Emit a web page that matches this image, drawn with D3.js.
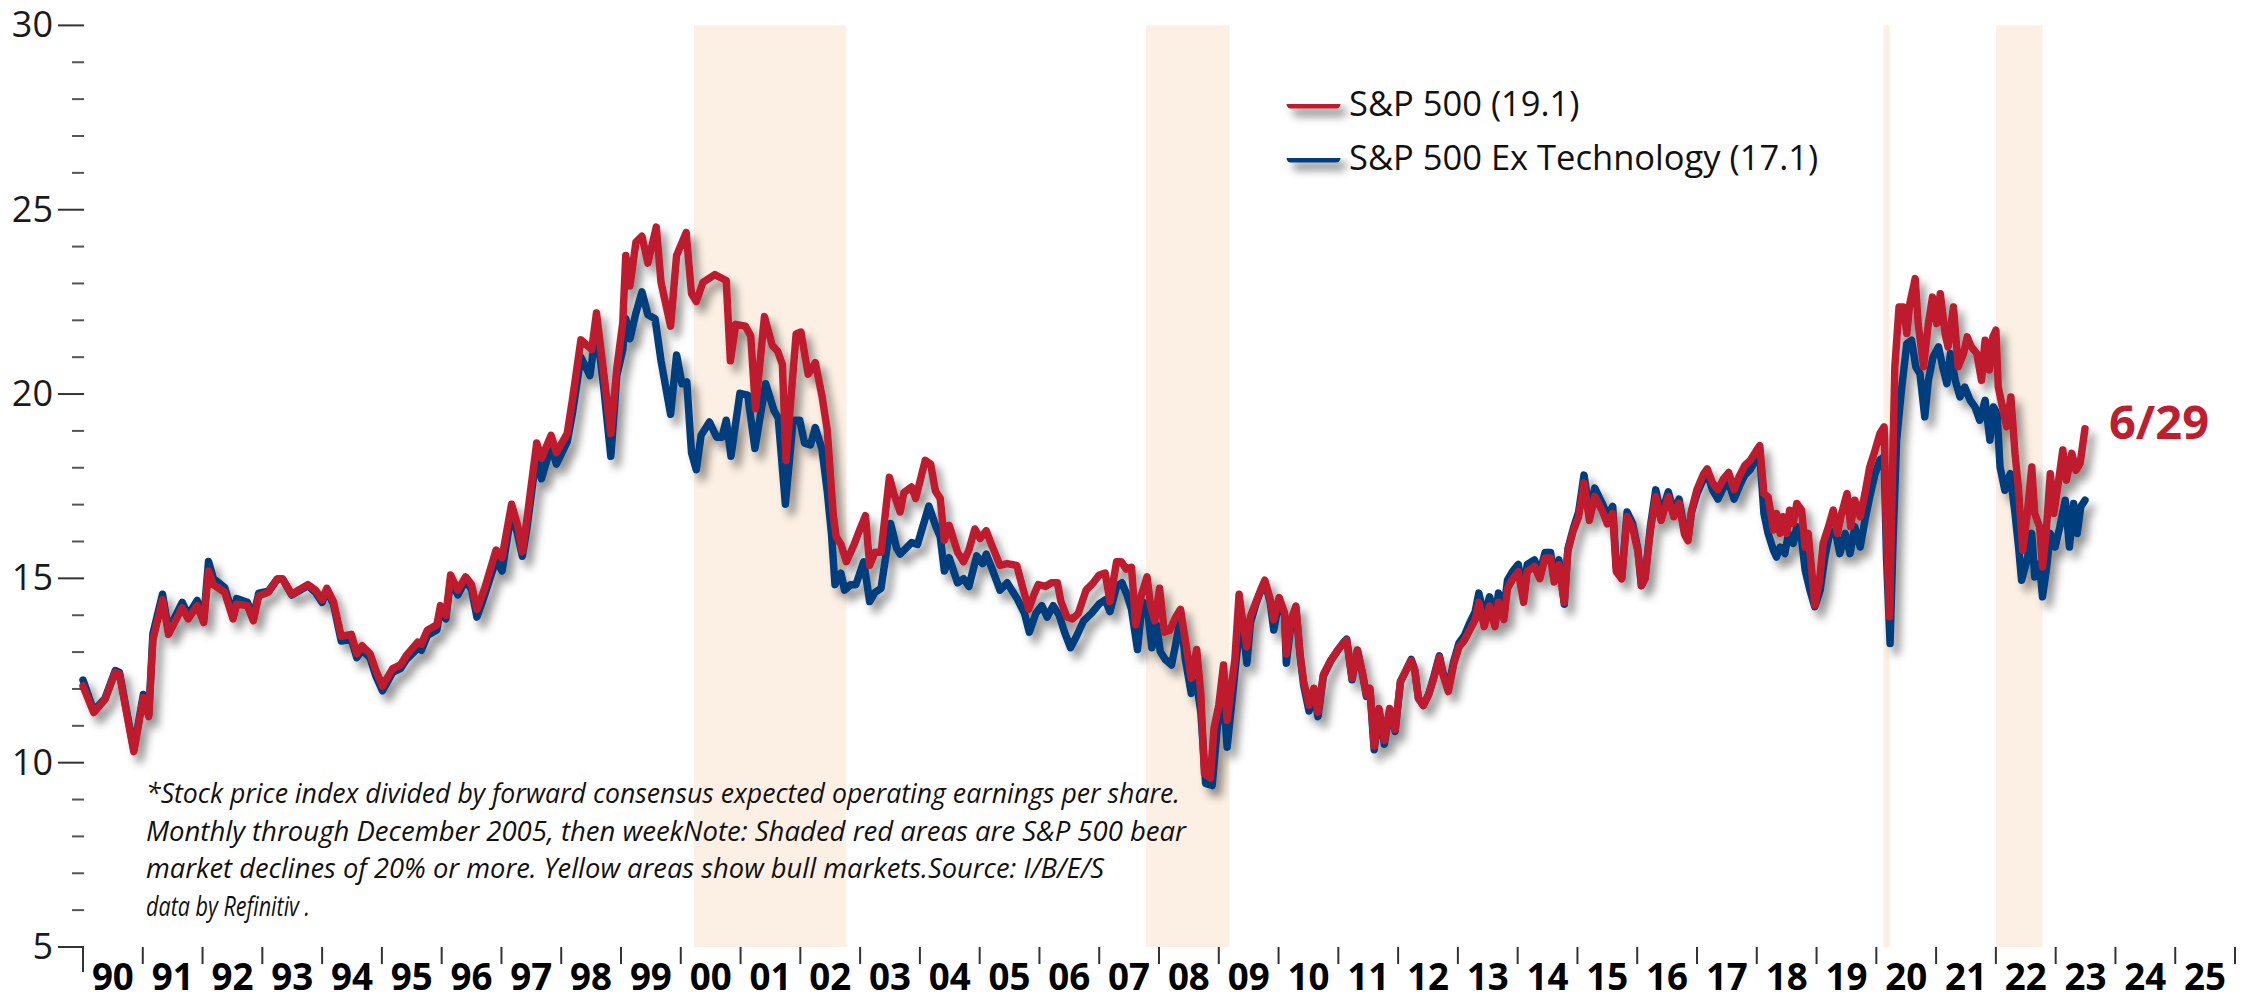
<!DOCTYPE html>
<html>
<head>
<meta charset="utf-8">
<script src="https://cdn.jsdelivr.net/npm/d3@7"></script>
<style>
  body { margin: 0; background: #fff; }
  svg { display: block; }
</style>
</head>
<body>
<script>
// forward P/E, S&P 500 vs S&P 500 ex tech  [decimal year, value]
const spxPE = [
  [1990.0,12.08],[1990.18,11.36],[1990.37,11.72],[1990.54,12.45],[1990.61,12.4],[1990.85,10.3],[1991.01,11.77],[1991.1,11.25],
  [1991.17,13.33],[1991.33,14.42],[1991.43,13.48],[1991.66,14.2],[1991.76,13.9],[1991.91,14.26],[1992.02,13.8],[1992.1,15.2],
  [1992.18,14.83],[1992.37,14.62],[1992.51,13.9],[1992.57,14.3],[1992.75,14.26],[1992.85,13.85],[1992.94,14.52],[1993.1,14.62],
  [1993.25,14.98],[1993.34,14.98],[1993.49,14.57],[1993.76,14.83],[1993.89,14.68],[1994.0,14.42],[1994.08,14.73],[1994.19,14.37],
  [1994.32,13.43],[1994.49,13.48],[1994.58,12.96],[1994.67,13.17],[1994.8,12.96],[1994.9,12.5],[1995.01,12.08],[1995.18,12.55],
  [1995.31,12.65],[1995.41,12.91],[1995.6,13.27],[1995.66,13.22],[1995.76,13.59],[1995.92,13.74],[1995.98,14.26],[1996.07,14.0],
  [1996.15,15.09],[1996.27,14.68],[1996.4,15.04],[1996.5,14.83],[1996.59,14.16],[1996.72,14.73],[1996.91,15.77],[1997.01,15.56],
  [1997.17,17.01],[1997.27,16.44],[1997.35,15.72],[1997.43,16.65],[1997.59,18.67],[1997.67,18.26],[1997.83,18.88],[1997.92,18.41],
  [1998.1,18.93],[1998.19,19.87],[1998.33,21.47],[1998.51,21.21],[1998.59,22.2],[1998.71,20.59],[1998.83,18.93],[1998.93,20.7],
  [1999.03,21.94],[1999.08,23.76],[1999.15,22.93],[1999.25,24.12],[1999.35,24.28],[1999.45,23.55],[1999.59,24.53],[1999.67,23.03],
  [1999.83,21.84],[1999.93,23.76],[2000.09,24.38],[2000.18,22.72],[2000.26,22.51],[2000.37,23.03],[2000.57,23.24],[2000.76,23.08],
  [2000.83,20.9],[2000.92,21.89],[2001.08,21.84],[2001.17,21.58],[2001.25,19.6],[2001.4,22.1],[2001.53,21.32],[2001.62,21.16],
  [2001.7,20.8],[2001.76,18.2],[2001.93,21.63],[2002.01,21.68],[2002.13,20.54],[2002.25,20.85],[2002.36,19.97],[2002.45,19.03],
  [2002.55,16.75],[2002.6,16.13],[2002.68,15.92],[2002.77,15.45],[2002.9,15.92],[2003.0,16.34],[2003.09,16.7],[2003.16,15.35],
  [2003.25,15.71],[2003.35,15.71],[2003.49,17.74],[2003.57,17.27],[2003.67,16.8],[2003.73,17.32],[2003.86,17.48],[2003.93,17.17],
  [2004.09,18.2],[2004.18,18.1],[2004.26,17.37],[2004.34,17.17],[2004.41,16.03],[2004.49,16.44],[2004.63,15.71],[2004.73,15.45],
  [2004.82,15.77],[2004.92,16.34],[2005.01,16.08],[2005.11,16.29],[2005.21,15.87],[2005.34,15.35],[2005.46,15.4],[2005.62,15.35],
  [2005.75,14.57],[2005.82,14.16],[2005.91,14.57],[2005.98,14.83],[2006.1,14.78],[2006.2,14.88],[2006.3,14.88],[2006.36,14.37],
  [2006.46,13.95],[2006.55,13.9],[2006.65,14.05],[2006.78,14.68],[2006.9,14.88],[2007.0,15.09],[2007.1,15.14],[2007.18,14.37],
  [2007.29,15.45],[2007.37,15.45],[2007.45,15.25],[2007.54,15.3],[2007.61,13.74],[2007.7,14.52],[2007.8,15.04],[2007.86,14.26],
  [2007.93,13.85],[2008.01,14.73],[2008.09,13.54],[2008.18,13.59],[2008.28,13.95],[2008.36,14.16],[2008.44,13.33],[2008.54,12.29],
  [2008.63,13.07],[2008.7,11.88],[2008.76,9.7],[2008.86,9.59],[2008.92,10.94],[2009.0,11.56],[2009.08,12.65],[2009.14,11.15],
  [2009.27,12.81],[2009.34,14.57],[2009.38,14.07],[2009.47,13.14],[2009.53,13.97],[2009.62,14.35],[2009.71,14.72],[2009.77,14.95],
  [2009.86,14.44],[2009.92,13.88],[2010.01,14.48],[2010.1,14.07],[2010.13,12.95],[2010.21,13.88],[2010.29,14.25],[2010.36,12.95],
  [2010.42,12.21],[2010.51,11.56],[2010.59,12.02],[2010.66,11.37],[2010.75,12.39],[2010.87,12.77],[2010.99,13.05],[2011.08,13.23],
  [2011.14,13.32],[2011.23,12.3],[2011.32,13.05],[2011.41,12.39],[2011.47,11.84],[2011.53,12.02],[2011.6,10.45],[2011.68,11.47],
  [2011.77,10.6],[2011.86,11.47],[2011.95,10.9],[2012.04,12.21],[2012.13,12.49],[2012.22,12.77],[2012.28,12.49],[2012.34,11.74],
  [2012.42,11.56],[2012.51,11.84],[2012.6,12.3],[2012.69,12.86],[2012.75,12.39],[2012.84,11.93],[2012.93,12.67],[2013.02,13.14],
  [2013.11,13.32],[2013.2,13.6],[2013.29,13.88],[2013.35,14.35],[2013.44,13.69],[2013.53,14.25],[2013.62,13.69],[2013.68,14.35],
  [2013.77,13.88],[2013.83,14.72],[2013.92,14.99],[2014.01,15.18],[2014.1,14.35],[2014.16,15.18],[2014.28,15.32],[2014.37,14.99],
  [2014.46,15.55],[2014.55,15.55],[2014.61,14.9],[2014.69,15.37],[2014.78,14.35],[2014.84,15.74],[2014.93,16.29],[2015.02,16.67],
  [2015.11,17.59],[2015.2,16.57],[2015.29,17.22],[2015.41,16.85],[2015.5,16.48],[2015.59,16.76],[2015.65,15.18],[2015.74,14.99],
  [2015.83,16.67],[2015.92,16.39],[2016.01,15.74],[2016.07,14.81],[2016.13,14.99],[2016.22,16.29],[2016.31,17.22],[2016.4,16.57],
  [2016.52,17.22],[2016.61,16.67],[2016.7,17.04],[2016.79,16.2],[2016.85,16.02],[2016.91,16.85],[2017.0,17.41],[2017.11,17.83],
  [2017.17,17.97],[2017.26,17.59],[2017.35,17.41],[2017.44,17.69],[2017.53,17.87],[2017.62,17.41],[2017.71,17.78],[2017.8,18.06],
  [2017.89,18.2],[2017.98,18.43],[2018.05,18.6],[2018.12,17.3],[2018.19,17.21],[2018.28,16.31],[2018.33,16.76],[2018.39,16.22],
  [2018.44,16.67],[2018.5,16.22],[2018.55,16.85],[2018.61,16.49],[2018.67,17.03],[2018.75,16.85],[2018.81,15.85],[2018.86,16.22],
  [2018.92,15.22],[2018.97,14.27],[2019.05,14.95],[2019.11,15.95],[2019.2,16.4],[2019.28,16.85],[2019.35,16.22],[2019.42,16.76],
  [2019.51,17.3],[2019.57,16.4],[2019.64,17.12],[2019.73,16.67],[2019.81,17.3],[2019.89,18.02],[2019.98,18.48],[2020.06,18.93],
  [2020.13,19.11],[2020.16,16.76],[2020.22,13.96],[2020.27,17.84],[2020.31,20.74],[2020.38,22.36],[2020.45,22.36],[2020.51,21.64],
  [2020.56,22.45],[2020.65,23.13],[2020.7,21.91],[2020.79,20.74],[2020.87,21.91],[2020.94,22.63],[2021.01,21.91],[2021.07,22.72],
  [2021.15,21.64],[2021.2,21.28],[2021.29,22.36],[2021.37,20.74],[2021.46,21.1],[2021.52,21.55],[2021.59,21.28],[2021.68,21.1],
  [2021.76,20.37],[2021.82,21.46],[2021.89,20.65],[2021.95,21.55],[2022.0,21.73],[2022.04,20.19],[2022.11,19.65],[2022.18,19.11],
  [2022.25,19.92],[2022.32,18.39],[2022.38,17.39],[2022.45,15.76],[2022.52,16.67],[2022.6,18.02],[2022.65,16.76],[2022.73,16.4],
  [2022.78,15.31],[2022.84,16.22],[2022.91,17.84],[2022.97,16.76],[2023.05,17.66],[2023.12,18.48],[2023.18,17.66],[2023.27,18.39],
  [2023.34,17.93],[2023.41,18.12],[2023.49,19.06]
];

const exTechPE = [
  [1990.0,12.24],[1990.18,11.4],[1990.37,11.75],[1990.54,12.5],[1990.61,12.45],[1990.85,10.35],[1991.01,11.85],[1991.1,11.3],
  [1991.17,13.5],[1991.33,14.57],[1991.43,13.6],[1991.66,14.35],[1991.76,14.0],[1991.91,14.4],[1992.02,13.9],[1992.1,15.46],
  [1992.18,15.0],[1992.37,14.75],[1992.51,14.0],[1992.57,14.45],[1992.75,14.35],[1992.85,13.95],[1992.94,14.6],[1993.1,14.65],
  [1993.25,14.98],[1993.34,14.98],[1993.49,14.55],[1993.76,14.8],[1993.89,14.62],[1994.0,14.35],[1994.08,14.68],[1994.19,14.3],
  [1994.32,13.3],[1994.49,13.35],[1994.58,12.85],[1994.67,13.05],[1994.8,12.85],[1994.9,12.35],[1995.01,11.95],[1995.18,12.45],
  [1995.31,12.55],[1995.41,12.8],[1995.6,13.1],[1995.66,13.05],[1995.76,13.45],[1995.92,13.6],[1995.98,14.15],[1996.07,13.9],
  [1996.15,14.95],[1996.27,14.55],[1996.4,14.95],[1996.5,14.7],[1996.59,13.95],[1996.72,14.55],[1996.91,15.5],[1997.01,15.2],
  [1997.17,16.8],[1997.27,16.2],[1997.35,15.6],[1997.43,16.4],[1997.59,18.4],[1997.67,17.7],[1997.83,18.6],[1997.92,18.1],
  [1998.1,18.7],[1998.19,19.5],[1998.33,21.0],[1998.48,20.5],[1998.59,21.8],[1998.71,20.2],[1998.83,18.31],[1998.93,20.5],
  [1999.03,21.2],[1999.08,22.04],[1999.15,21.5],[1999.25,22.2],[1999.35,22.77],[1999.45,22.15],[1999.57,22.04],[1999.67,20.9],
  [1999.83,19.45],[1999.93,21.06],[2000.02,20.28],[2000.1,20.33],[2000.18,18.41],[2000.26,17.95],[2000.34,18.88],[2000.48,19.24],
  [2000.6,18.83],[2000.69,18.83],[2000.76,19.29],[2000.84,18.31],[2000.99,20.02],[2001.12,19.97],[2001.24,18.52],[2001.42,20.28],
  [2001.56,19.55],[2001.63,19.35],[2001.75,17.01],[2001.88,19.29],[2001.99,19.29],[2002.07,18.67],[2002.17,18.62],[2002.25,19.09],
  [2002.36,18.52],[2002.45,17.37],[2002.52,16.23],[2002.58,14.83],[2002.68,15.14],[2002.74,14.68],[2002.84,14.83],[2002.93,14.83],
  [2003.06,15.45],[2003.16,14.37],[2003.25,14.62],[2003.35,14.73],[2003.51,16.49],[2003.61,15.82],[2003.67,15.66],[2003.86,15.97],
  [2003.96,15.92],[2004.15,16.96],[2004.26,16.44],[2004.34,16.13],[2004.41,15.2],[2004.49,15.56],[2004.63,14.88],[2004.73,14.99],
  [2004.82,14.78],[2004.95,15.61],[2005.05,15.4],[2005.11,15.66],[2005.21,15.25],[2005.34,14.68],[2005.46,14.88],[2005.62,14.47],
  [2005.75,14.05],[2005.83,13.54],[2005.94,14.05],[2006.04,14.26],[2006.13,13.95],[2006.23,14.26],[2006.33,14.0],[2006.42,13.54],
  [2006.52,13.12],[2006.62,13.43],[2006.74,13.85],[2006.87,14.05],[2007.0,14.31],[2007.1,14.42],[2007.18,14.1],[2007.29,14.78],
  [2007.38,14.88],[2007.46,14.57],[2007.54,14.16],[2007.64,13.07],[2007.72,14.37],[2007.8,14.26],[2007.88,13.12],[2007.96,13.74],
  [2008.02,13.02],[2008.1,12.81],[2008.21,12.65],[2008.28,13.22],[2008.36,13.95],[2008.44,12.81],[2008.54,11.88],[2008.63,12.19],
  [2008.7,11.36],[2008.78,9.44],[2008.89,9.38],[2008.98,11.04],[2009.08,11.77],[2009.14,10.42],[2009.24,11.98],[2009.34,13.54],
  [2009.38,14.0],[2009.47,12.7],[2009.53,13.8],[2009.62,14.3],[2009.71,14.7],[2009.77,14.9],[2009.86,14.35],[2009.92,13.6],
  [2010.01,14.4],[2010.1,14.0],[2010.13,12.7],[2010.21,13.8],[2010.29,14.2],[2010.36,12.9],[2010.42,12.1],[2010.51,11.4],
  [2010.59,11.95],[2010.66,11.25],[2010.75,12.35],[2010.87,12.75],[2010.99,13.05],[2011.08,13.25],[2011.14,13.35],[2011.23,12.25],
  [2011.32,13.05],[2011.41,12.35],[2011.47,11.8],[2011.53,11.95],[2011.6,10.35],[2011.68,11.4],[2011.77,10.5],[2011.86,11.45],
  [2011.95,10.85],[2012.04,12.2],[2012.13,12.5],[2012.22,12.8],[2012.28,12.5],[2012.34,11.75],[2012.42,11.55],[2012.51,11.85],
  [2012.6,12.35],[2012.69,12.9],[2012.75,12.45],[2012.84,12.0],[2012.93,12.75],[2013.02,13.25],[2013.11,13.45],[2013.2,13.8],
  [2013.29,14.1],[2013.35,14.6],[2013.44,13.95],[2013.53,14.5],[2013.62,13.95],[2013.68,14.6],[2013.77,14.15],[2013.83,14.95],
  [2013.92,15.2],[2014.01,15.38],[2014.1,14.55],[2014.16,15.38],[2014.28,15.5],[2014.37,15.15],[2014.46,15.7],[2014.55,15.7],
  [2014.61,15.05],[2014.69,15.5],[2014.78,14.3],[2014.84,15.8],[2014.93,16.35],[2015.02,16.8],[2015.11,17.8],[2015.2,16.8],
  [2015.29,17.45],[2015.41,17.05],[2015.5,16.7],[2015.59,16.95],[2015.65,15.3],[2015.74,15.0],[2015.83,16.8],[2015.92,16.5],
  [2016.01,15.8],[2016.07,14.8],[2016.13,15.0],[2016.22,16.4],[2016.31,17.4],[2016.4,16.7],[2016.52,17.35],[2016.61,16.8],
  [2016.7,17.15],[2016.79,16.3],[2016.85,16.1],[2016.91,16.8],[2017.0,17.3],[2017.11,17.7],[2017.17,17.85],[2017.26,17.4],
  [2017.35,17.15],[2017.44,17.45],[2017.53,17.6],[2017.62,17.15],[2017.71,17.5],[2017.8,17.8],[2017.89,17.95],[2017.98,18.2],
  [2018.05,18.35],[2018.12,16.76],[2018.19,16.22],[2018.28,15.76],[2018.33,15.58],[2018.39,15.85],[2018.47,15.67],[2018.53,16.22],
  [2018.61,15.95],[2018.67,16.4],[2018.75,16.04],[2018.81,15.22],[2018.89,14.68],[2018.97,14.23],[2019.06,14.68],[2019.14,15.58],
  [2019.22,16.22],[2019.31,16.31],[2019.39,15.67],[2019.48,16.22],[2019.56,15.67],[2019.64,16.4],[2019.73,15.85],[2019.81,16.58],
  [2019.89,17.21],[2019.98,17.84],[2020.06,18.21],[2020.13,18.3],[2020.17,15.58],[2020.23,13.23],[2020.28,16.04],[2020.34,18.75],
  [2020.42,20.1],[2020.51,21.37],[2020.59,21.46],[2020.66,20.74],[2020.73,20.55],[2020.81,19.38],[2020.87,20.37],[2020.95,21.01],
  [2021.04,21.28],[2021.11,20.74],[2021.18,20.28],[2021.24,21.1],[2021.32,20.37],[2021.4,19.92],[2021.48,20.19],[2021.57,19.83],
  [2021.65,19.65],[2021.73,19.29],[2021.82,19.83],[2021.9,18.75],[2021.96,19.65],[2022.02,19.47],[2022.07,18.02],[2022.15,17.39],
  [2022.24,17.84],[2022.32,16.76],[2022.38,15.85],[2022.43,14.95],[2022.52,15.49],[2022.6,16.22],[2022.65,15.04],[2022.73,15.4],
  [2022.78,14.5],[2022.85,15.31],[2022.91,16.22],[2022.99,15.85],[2023.07,16.4],[2023.16,17.12],[2023.23,15.85],[2023.3,17.03],
  [2023.36,16.22],[2023.42,16.94],[2023.49,17.12]
];

// bear markets (start, end)
const bearMarkets = [[2000.22, 2002.77], [2007.78, 2009.18], [2020.12, 2020.22], [2022.0, 2022.78]];

const yTickValues = d3.range(5, 31);
const yLabels = [5, 10, 15, 20, 25, 30];
const xYears = d3.range(1990, 2026);
const xLabels = ["90","91","92","93","94","95","96","97","98","99","00","01","02","03","04","05","06","07","08","09",
                 "10","11","12","13","14","15","16","17","18","19","20","21","22","23","24","25"];

const legendItems = [
  {name: "S&P 500 (19.1)", color: "#be1e2f"},
  {name: "S&P 500 Ex Technology (17.1)", color: "#003e7c"}
];
const lastDateLabel = "6/29";

const footnoteLines = [
  "*Stock price index divided by forward consensus expected operating earnings per share.",
  "Monthly through December 2005, then weekNote: Shaded red areas are S&P 500 bear",
  "market declines of 20% or more. Yellow areas show bull markets.Source: I/B/E/S",
  "data by Refinitiv ."
];
const footnoteWidths = [1034, 1040, 958, 164];

const W = 2259, H = 1000;

var svg = d3.select("body").append("svg")
  .attr("width", W)
  .attr("height", H)
  .style("font-family", "'Open Sans', sans-serif");

var x = d3.scaleLinear().domain([1990, 2026]).range([83, 2235]);
var y = d3.scaleLinear().domain([5, 30]).range([947, 25.4]);

// shadow filter in user space so flat legend lines still render
var defs = svg.append("defs");
var f = defs.append("filter").attr("id", "shadow")
  .attr("filterUnits", "userSpaceOnUse")
  .attr("x", 0).attr("y", 0).attr("width", W).attr("height", H);
f.append("feDropShadow")
  .attr("dx", 6).attr("dy", 8).attr("stdDeviation", 4)
  .attr("flood-color", "#000").attr("flood-opacity", 0.42);

// shaded bear market bands
svg.append("g").selectAll("rect")
  .data(bearMarkets)
  .enter().append("rect")
  .attr("x", d => x(d[0]))
  .attr("width", d => x(d[1]) - x(d[0]))
  .attr("y", y(30))
  .attr("height", y(5) - y(30))
  .attr("fill", "#fcefe3");

// y axis: ticks only, no domain line
var yAxis = svg.append("g");
yAxis.selectAll("line")
  .data(yTickValues)
  .enter().append("line")
  .attr("x1", d => d % 5 == 0 ? 58 : 72)
  .attr("x2", 84)
  .attr("y1", d => y(d))
  .attr("y2", d => y(d))
  .attr("stroke", d => d % 5 == 0 ? "#333" : "#555")
  .attr("stroke-width", 2);
yAxis.selectAll("text")
  .data(yLabels)
  .enter().append("text")
  .attr("x", 53)
  .attr("y", d => y(d) + 12)
  .attr("text-anchor", "end")
  .attr("font-size", 36)
  .attr("fill", "#1a1a1a")
  .text(d => d);

// x axis ticks at year boundaries
var xAxis = svg.append("g");
xAxis.selectAll("line")
  .data(d3.range(1990, 2027))
  .enter().append("line")
  .attr("x1", d => x(d))
  .attr("x2", d => x(d))
  .attr("y1", y(5))
  .attr("y2", d => d == 1990 ? 972 : 964)
  .attr("stroke", "#333")
  .attr("stroke-width", 2);
xAxis.selectAll("text")
  .data(xYears)
  .enter().append("text")
  .attr("x", d => x(d + 0.5) - 21)
  .attr("y", 990)
  .attr("textLength", 42)
  .attr("lengthAdjust", "spacingAndGlyphs")
  .attr("font-size", 37)
  .attr("font-weight", "bold")
  .attr("fill", "#000")
  .text((d, i) => xLabels[i]);

// footnote
svg.append("g").selectAll("text")
  .data(footnoteLines)
  .enter().append("text")
  .attr("x", 146)
  .attr("y", (d, i) => 803 + i * 37.7)
  .attr("font-size", 27)
  .attr("font-style", "italic")
  .attr("fill", "#111")
  .attr("textLength", (d, i) => footnoteWidths[i])
  .attr("lengthAdjust", "spacingAndGlyphs")
  .text(d => d);

// the two lines, with a drop shadow under both
var line = d3.line()
  .x(d => x(d[0]))
  .y(d => y(d[1]));

var lines = svg.append("g").attr("filter", "url(#shadow)");
lines.append("path")
  .datum(exTechPE)
  .attr("d", line)
  .attr("fill", "none")
  .attr("stroke", legendItems[1].color)
  .attr("stroke-width", 7.5)
  .attr("stroke-linejoin", "round")
  .attr("stroke-linecap", "round");
lines.append("path")
  .datum(spxPE)
  .attr("d", line)
  .attr("fill", "none")
  .attr("stroke", legendItems[0].color)
  .attr("stroke-width", 7.5)
  .attr("stroke-linejoin", "round")
  .attr("stroke-linecap", "round");

// legend
var legend = svg.append("g");
var lg = legend.selectAll("g")
  .data(legendItems)
  .enter().append("g")
  .attr("transform", (d, i) => "translate(0," + (104 + i * 54) + ")");
lg.append("line")
  .attr("x1", 1291).attr("x2", 1336)
  .attr("y1", 0).attr("y2", 0)
  .attr("stroke", d => d.color)
  .attr("stroke-width", 9)
  .attr("stroke-linecap", "round")
  .attr("filter", "url(#shadow)");
lg.append("text")
  .attr("x", 1349)
  .attr("y", 12)
  .attr("font-size", 34.5)
  .attr("fill", "#111")
  .text(d => d.name);

// date label at the end of the lines
svg.append("text")
  .attr("x", 2109)
  .attr("y", 439)
  .attr("font-size", 47)
  .attr("font-weight", "bold")
  .attr("fill", legendItems[0].color)
  .text(lastDateLabel);
</script>
</body>
</html>
